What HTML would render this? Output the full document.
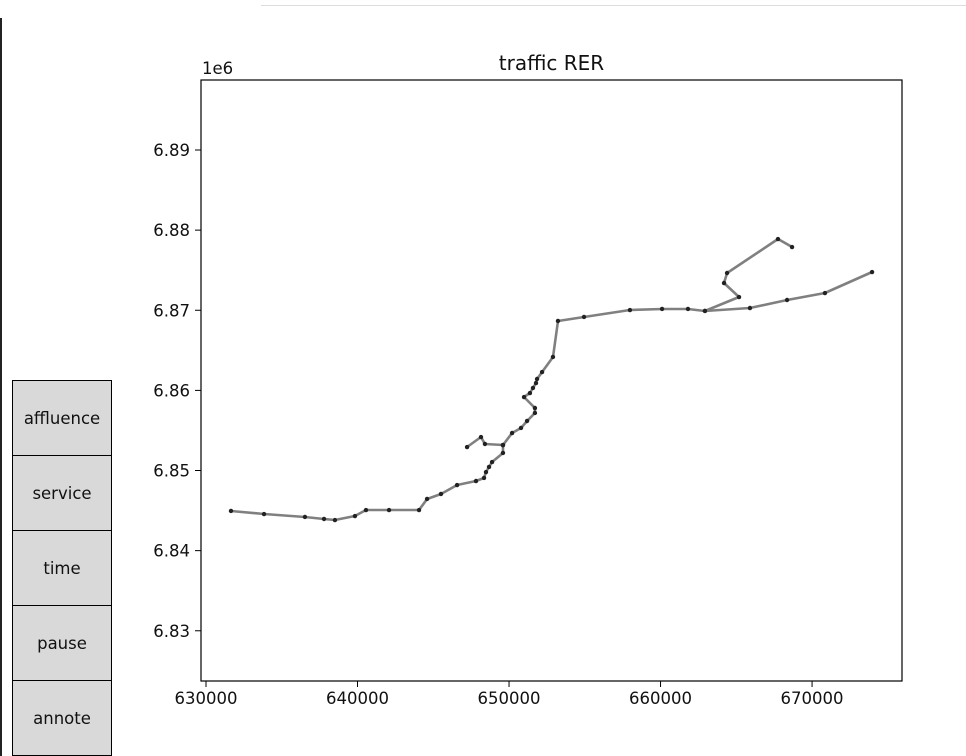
<!DOCTYPE html>
<html><head><meta charset="utf-8"><style>
html,body{margin:0;padding:0;background:#fff;}
body{width:966px;height:756px;overflow:hidden;position:relative;font-family:"Liberation Sans","DejaVu Sans",sans-serif;}
.btn{position:absolute;left:12px;width:98px;height:74px;background:#d9d9d9;border:1px solid #000;display:flex;align-items:center;justify-content:center;font-size:16.5px;color:#111;font-family:"DejaVu Sans","Liberation Sans",sans-serif;}
</style></head><body>
<div style="position:absolute;left:0;top:18px;width:2px;height:738px;background:#222"></div>
<div style="position:absolute;left:261px;top:5px;width:705px;height:1px;background:#ddd"></div>
<div class="btn" style="top:380px">affluence</div>
<div class="btn" style="top:455px">service</div>
<div class="btn" style="top:530px">time</div>
<div class="btn" style="top:605px">pause</div>
<div class="btn" style="top:680px">annote</div>
<svg id="chart" width="966" height="756" style="position:absolute;left:0;top:0" xmlns="http://www.w3.org/2000/svg" font-family="DejaVu Sans, Liberation Sans, sans-serif"></svg>
<script>
const xTicks=[630000,640000,650000,660000,670000];
const yTicks=[6830000,6840000,6850000,6860000,6870000,6880000,6890000];
const yTickLabels=["6.83","6.84","6.85","6.86","6.87","6.88","6.89"];
const lineWestX=[649600,649600,648880,648680,648480,648350,647820,646570,645510,644590,644060,642080,640560,639830,638510,637790,636530,633830,631650];
const lineWestY=[6853180,6852190,6851060,6850440,6849810,6849070,6848690,6848190,6847070,6846450,6845070,6845070,6845070,6844320,6843820,6843950,6844200,6844570,6844950];
const lineHookX=[649600,648410,648150,647230];
const lineHookY=[6853180,6853310,6854180,6852930];
const lineEastX=[649600,650200,650790,651190,651710,651710,650990,651380,651580,651780,651850,652180,652900,653230,654950,657980,660100,661810,662930,665900,668350,670850,673960];
const lineEastY=[6853180,6854680,6855310,6856180,6857180,6857800,6859170,6859670,6860300,6860920,6861420,6862290,6864170,6868660,6869160,6870030,6870160,6870160,6869910,6870280,6871280,6872150,6874770];
const lineNorthX=[662930,665180,664190,664390,667750,668680];
const lineNorthY=[6869910,6871650,6873400,6874650,6878890,6877890];
const series=[[lineWestX,lineWestY],[lineHookX,lineHookY],[lineEastX,lineEastY],[lineNorthX,lineNorthY]];
const L=201,R=902,T=80,B=681;
const xMin=629670,xMax=675936,yMin=6823731,yMax=6898736;
function sx(v){return L+(v-xMin)/(xMax-xMin)*(R-L);}
function sy(v){return B-(v-yMin)/(yMax-yMin)*(B-T);}
const svg=document.getElementById('chart');
const NS='http://www.w3.org/2000/svg';
function mk(t,a){const e=document.createElementNS(NS,t);for(const k in a)e.setAttribute(k,a[k]);svg.appendChild(e);return e;}
let r=mk('rect',{x:L,y:T,width:R-L,height:B-T,fill:'none',stroke:'#000','stroke-width':1.2});


xTicks.forEach(v=>{const x=sx(v);
 let l=mk('line',{x1:x,x2:x,y1:B,y2:B+6,stroke:'#000'});
 
 
 let t=mk('text',{x:x,y:B+23,'text-anchor':'middle','font-size':16.5,fill:'#111'});t.textContent=v;
 
 
});
yTicks.forEach((v,i)=>{const y=sy(v);
 let l=mk('line',{x1:L-6,x2:L,y1:y,y2:y,stroke:'#000'});
 
 
 let t=mk('text',{x:L-11,y:y+6,'text-anchor':'end','font-size':16.5,fill:'#111'});t.textContent=yTickLabels[i];
 
 
});
let off=mk('text',{x:L+1,y:T-6,'font-size':16.5,fill:'#111'});off.textContent='1e6';


let ttl=mk('text',{x:(L+R)/2,y:T-10,'text-anchor':'middle','font-size':20,fill:'#111'});ttl.textContent='traffic RER';


series.forEach(([xs,ys])=>{
 const pts=xs.map((v,i)=>sx(v).toFixed(1)+','+sy(ys[i]).toFixed(1)).join(' ');
 let p=mk('polyline',{points:pts,fill:'none',stroke:'#808080','stroke-width':2.6,'stroke-linejoin':'round'});
 
 
});
series.forEach(([xs,ys])=>{
 xs.forEach((v,i)=>{
  let c=mk('circle',{cx:sx(v),cy:sy(ys[i]),r:2.2,fill:'#222'});
  
  
 });
});
</script>
</body></html>
